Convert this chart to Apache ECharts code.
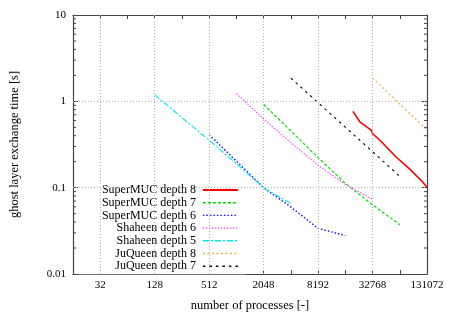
<!DOCTYPE html>
<html>
<head>
<meta charset="utf-8">
<script src="https://cdn.jsdelivr.net/npm/echarts@6/dist/echarts.min.js"></script>
<style>html,body{margin:0;padding:0;background:#fff}#c{width:452px;height:317px}</style>
</head>
<body>
<div id="c"></div>
<script>
// ---- data ----
const superMUC8X = [19900, 23900, 27800, 31800, 32900, 40600, 59300, 82800, 116000, 131072];
const superMUC8Y = [0.766, 0.573, 0.513, 0.461, 0.421, 0.345, 0.228, 0.167, 0.118, 0.101];
const superMUC7X = [2048, 4096, 8192, 16384, 32768, 65536];
const superMUC7Y = [0.92, 0.455, 0.223, 0.112, 0.0633, 0.0373];
const superMUC6X = [512, 1024, 2048, 4096, 8192, 16384];
const superMUC6Y = [0.41, 0.203, 0.1, 0.0596, 0.0338, 0.0279];
const shaheen6X = [1024, 2048, 4096, 8192, 16384, 32768];
const shaheen6Y = [1.23, 0.625, 0.332, 0.182, 0.109, 0.0736];
const shaheen5X = [128, 256, 512, 1024, 2048, 4096];
const shaheen5Y = [1.19, 0.648, 0.354, 0.19, 0.1, 0.0653];
const juqueen8X = [32768, 65536, 131072];
const juqueen8Y = [1.86, 0.93, 0.468];
const juqueen7X = [4096, 8192, 16384, 32768, 65536];
const juqueen7Y = [1.86, 0.966, 0.502, 0.261, 0.135];

const seriesNames = ['SuperMUC depth 8', 'SuperMUC depth 7', 'SuperMUC depth 6',
  'Shaheen depth 6', 'Shaheen depth 5', 'JuQueen depth 8', 'JuQueen depth 7'];

const xTickLabels = [32, 128, 512, 2048, 8192, 32768, 131072];
const yTickLabels = [0.01, 0.1, 1, 10];
const yMinorTicks = [0.02, 0.03, 0.04, 0.05, 0.06, 0.07, 0.08, 0.09,
  0.2, 0.3, 0.4, 0.5, 0.6, 0.7, 0.8, 0.9,
  2, 3, 4, 5, 6, 7, 8, 9];
const xMin = 16, xMax = 131072, yMin = 0.01, yMax = 10;

// ---- build ----
const pairs = (xs, ys) => xs.map((x, i) => [x, ys[i]]);
const FONT = 'Liberation Serif';
const AXC = '#444';

const styles = [
  {color: '#ff0000', width: 1.6, type: 'solid'},
  {color: '#00dd00', width: 1.2, type: [3, 2]},
  {color: '#1010ff', width: 1.4, type: [1.5, 2]},
  {color: '#ff40ff', width: 1.1, type: [1.5, 1.5]},
  {color: '#00e8e8', width: 1.1, type: [6, 2, 2, 2]},
  {color: '#e8ac48', width: 1.2, type: [2, 2.5]},
  {color: '#000000', width: 1.1, type: [2.5, 4]}
];
const datasets = [
  pairs(superMUC8X, superMUC8Y), pairs(superMUC7X, superMUC7Y), pairs(superMUC6X, superMUC6Y),
  pairs(shaheen6X, shaheen6Y), pairs(shaheen5X, shaheen5Y), pairs(juqueen8X, juqueen8Y),
  pairs(juqueen7X, juqueen7Y)
];

const xAxisBase = {
  type: 'log', logBase: 2, min: xMin, max: xMax, interval: 1,
  axisLine: {show: true, onZero: false, lineStyle: {color: AXC, width: 1.2}},
  axisTick: {show: true, inside: true, length: 4, lineStyle: {color: AXC}},
  splitLine: {show: false},
  minorTick: {show: false}
};
const yAxisBase = {
  type: 'log', logBase: 10, min: yMin, max: yMax,
  axisLine: {show: true, onZero: false, lineStyle: {color: AXC, width: 1.2}},
  axisTick: {show: true, inside: true, length: 5, lineStyle: {color: AXC}},
  splitLine: {show: false}
};

const lineSeries = seriesNames.map((name, i) => ({
  name, type: 'line', xAxisIndex: 0, yAxisIndex: 0,
  data: datasets[i], showSymbol: false, symbol: 'none', smooth: false,
  legendIcon: 'rect',
  lineStyle: styles[i], itemStyle: {color: styles[i].color}, z: 3, animation: false
}));

const gridSeries = {
  name: '_grid', type: 'line', data: [], xAxisIndex: 0, yAxisIndex: 0, z: 1, silent: true,
  markLine: {
    silent: true, symbol: ['none', 'none'], animation: false,
    label: {show: false},
    lineStyle: {color: '#b0b0b0', width: 1, type: [1, 2]},
    data: xTickLabels.filter(v => v < xMax).map(v => ({xAxis: v}))
      .concat(yTickLabels.filter(v => v > yMin && v < yMax).map(v => ({yAxis: v})))
  }
};

const minorTickSeries = {
  name: '_minor', type: 'custom', xAxisIndex: 0, yAxisIndex: 0, silent: true, z: 4,
  data: yMinorTicks.map(v => [xMin, v]),
  encode: {x: 0, y: 1},
  renderItem: (params, api) => {
    const v = api.value(1);
    const pL = api.coord([xMin, v]);
    const pR = api.coord([xMax, v]);
    return {type: 'group', children: [
      {type: 'line', shape: {x1: pL[0], y1: pL[1], x2: pL[0] + 3, y2: pL[1]}, style: {stroke: AXC, lineWidth: 1}},
      {type: 'line', shape: {x1: pR[0] - 3, y1: pR[1], x2: pR[0], y2: pR[1]}, style: {stroke: AXC, lineWidth: 1}}
    ]};
  },
  animation: false
};

// legend icons: draw the series line style only, no symbol
const legendData = seriesNames.map((name, i) => ({
  name,
  itemStyle: {opacity: 0},
  lineStyle: {color: styles[i].color, width: i === 0 ? 2.2 : 1.4, type: styles[i].type, opacity: 1}
}));

const option = {
  animation: false,
  backgroundColor: '#fff',
  textStyle: {fontFamily: FONT},
  grid: {left: 69, right: 25, top: 15, bottom: 40, containLabel: false},
  legend: {
    data: legendData,
    orient: 'vertical', align: 'right',
    right: 207, top: 183,
    padding: [1, 6, 2, 23],
    backgroundColor: '#ffffff',
    itemWidth: 35, itemHeight: 12, itemGap: 0.7,
    itemStyle: {opacity: 0},
    textStyle: {fontFamily: FONT, fontSize: 12, color: '#000', padding: [0, 2, 0, 0]},
    selectedMode: false
  },
  xAxis: [
    Object.assign({}, xAxisBase, {
      position: 'bottom',
      name: 'number of processes [-]', nameLocation: 'middle', nameGap: 25,
      nameTextStyle: {fontFamily: FONT, fontSize: 12.5, color: '#000'},
      axisLabel: {
        show: true, margin: 6, fontFamily: FONT, fontSize: 11, color: '#000',
        showMinLabel: true, showMaxLabel: true,
        formatter: v => { const r = Math.round(v); return xTickLabels.indexOf(r) >= 0 ? String(r) : ''; }
      }
    }),
    Object.assign({}, xAxisBase, {position: 'top', axisLabel: {show: false}})
  ],
  yAxis: [
    Object.assign({}, yAxisBase, {
      position: 'left',
      name: 'ghost layer exchange time [s]', nameLocation: 'middle', nameGap: 52,
      nameTextStyle: {fontFamily: FONT, fontSize: 12.5, color: '#000'},
      axisLabel: {
        show: true, margin: 7, fontFamily: FONT, fontSize: 11, color: '#000',
        formatter: v => { for (const t of yTickLabels) { if (Math.abs(v - t) / t < 1e-6) return String(t); } return ''; }
      }
    }),
    Object.assign({}, yAxisBase, {position: 'right', axisLabel: {show: false}})
  ],
  series: [gridSeries, minorTickSeries].concat(lineSeries)
};

const chart = echarts.init(document.getElementById('c'), null, {renderer: 'canvas'});
chart.setOption(option);
</script>
</body>
</html>
